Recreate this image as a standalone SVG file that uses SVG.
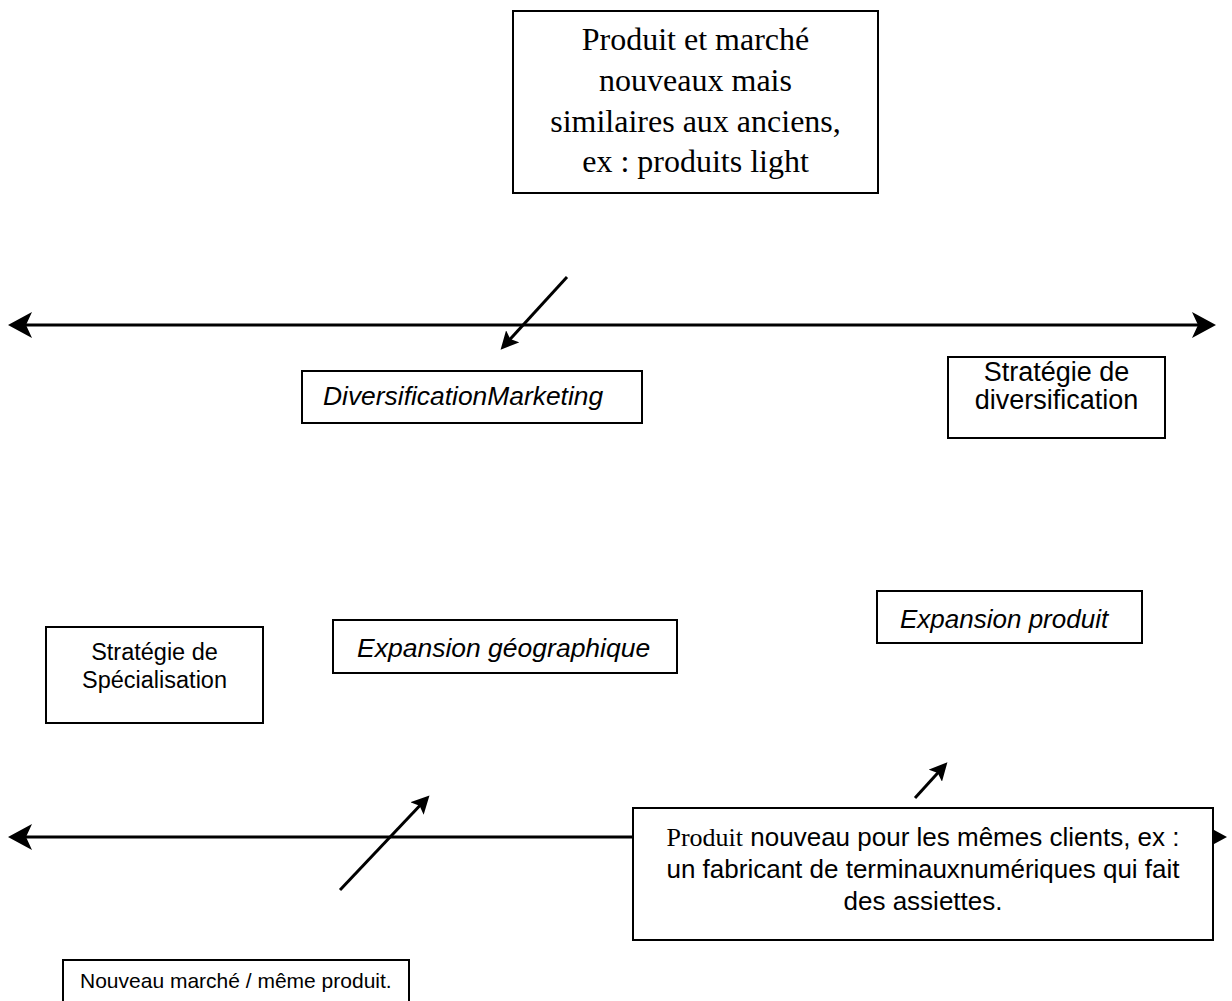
<svg xmlns="http://www.w3.org/2000/svg" width="1232" height="1001" viewBox="0 0 1232 1001">
<style>
.box{fill:#fff;stroke:#000;stroke-width:2}
.ln{fill:none;stroke:#000;stroke-width:3}
.t{font-family:"Liberation Sans",Arial,sans-serif;font-size:26px;fill:#000}
.i{font-style:italic}
.tm{font-family:"Liberation Serif","Times New Roman",serif;font-size:32px;fill:#000}
.c{text-anchor:middle}
</style>
<defs>
<marker id="ah" viewBox="0 0 24 26" refX="20" refY="13" markerWidth="24" markerHeight="26" markerUnits="userSpaceOnUse" orient="auto-start-reverse">
<path d="M0,0 L24,13 L0,26 L6,13 Z" fill="#000"/>
</marker>
<marker id="ah2" viewBox="0 0 20 20" refX="16" refY="10" markerWidth="18" markerHeight="18" markerUnits="userSpaceOnUse" orient="auto">
<path d="M0,0 L20,10 L0,20 L4,10 Z" fill="#000"/>
</marker>
</defs>
<rect width="1232" height="1001" fill="#fff"/>
<g id="connectors">
<line class="ln" x1="12" y1="325" x2="1212" y2="325" marker-start="url(#ah)" marker-end="url(#ah)"/>
<line class="ln" x1="12" y1="837" x2="1223" y2="837" marker-start="url(#ah)" marker-end="url(#ah)"/>
<line class="ln" x1="567" y1="277" x2="503" y2="347" marker-end="url(#ah2)"/>
<line class="ln" x1="340" y1="890" x2="427" y2="798" marker-end="url(#ah2)"/>
<line class="ln" x1="915" y1="798" x2="945" y2="765" marker-end="url(#ah2)"/>
</g>
<g id="n-top">
<rect class="box" x="513" y="11" width="365" height="182"/>
<text class="tm c" x="695.5" y="50">Produit et marché</text>
<text class="tm c" x="695.5" y="91">nouveaux mais</text>
<text class="tm c" x="695.5" y="132">similaires aux anciens,</text>
<text class="tm c" x="695.5" y="172">ex : produits light</text>
</g>
<g id="n-divmkt">
<rect class="box" x="302" y="371" width="340" height="52"/>
<text class="t i" x="323" y="405" style="font-size:26.4px">DiversificationMarketing</text>
</g>
<g id="n-stratdiv">
<rect class="box" x="948" y="357" width="217" height="81"/>
<text class="t c" x="1056.5" y="381" style="font-size:27px">Stratégie de</text>
<text class="t c" x="1056.5" y="409" style="font-size:27px">diversification</text>
</g>
<g id="n-exprod">
<rect class="box" x="877" y="591" width="265" height="52"/>
<text class="t i" x="900" y="628">Expansion produit</text>
</g>
<g id="n-exgeo">
<rect class="box" x="333" y="620" width="344" height="53"/>
<text class="t i" x="357" y="657" style="font-size:26.5px">Expansion géographique</text>
</g>
<g id="n-stratspe">
<rect class="box" x="46" y="627" width="217" height="96"/>
<text class="t c" x="154.5" y="660" style="font-size:23.5px">Stratégie de</text>
<text class="t c" x="154.5" y="688" style="font-size:23.5px">Spécialisation</text>
</g>
<g id="n-prodnouv">
<rect class="box" x="633" y="808" width="580" height="132"/>
<text class="t c" x="923" y="846"><tspan style="font-family:'Liberation Serif','Times New Roman',serif">Produit</tspan> nouveau pour les mêmes clients, ex :</text>
<text class="t c" x="923" y="878">un fabricant de terminauxnumériques qui fait</text>
<text class="t c" x="923" y="910">des assiettes.</text>
</g>
<g id="n-nouvmarche">
<rect class="box" x="63" y="960" width="346" height="50"/>
<text class="t" x="80" y="988" style="font-size:21px">Nouveau marché / même produit.</text>
</g>
</svg>
